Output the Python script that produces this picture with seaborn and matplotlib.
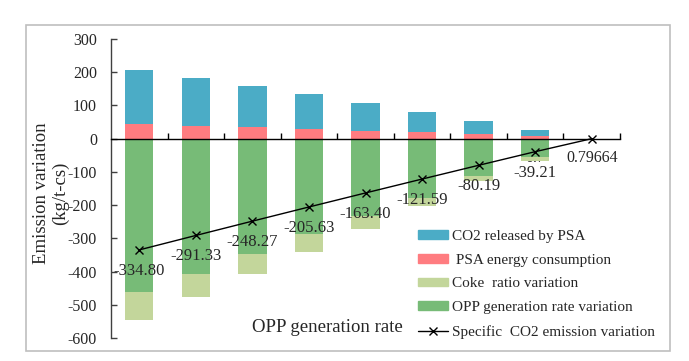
import numpy as np
import pandas as pd
import matplotlib
matplotlib.use("Agg")
import matplotlib.pyplot as plt
import seaborn as sns
from matplotlib.patches import Patch, Rectangle
from matplotlib.lines import Line2D
from matplotlib.ticker import FixedLocator

# ---- data ----
categories = ["0", "0.1", "0.2", "0.3", "0.4", "0.5", "0.6", "0.7", "0.79664"]
co2_released_psa = [165, 145, 123, 103, 82, 62, 40, 18, 0]
psa_energy = [43, 39, 35, 30, 24, 19, 13, 7, 0]
coke_ratio = [-82, -71, -61, -52, -38, -24, -15, -12, 0]
opp_rate = [-463, -406, -347, -288, -234, -180, -112, -55, 0]
specific_co2 = [-334.80, -291.33, -248.27, -205.63, -163.40, -121.59, -80.19, -39.21, 0]
point_labels = ["-334.80", "-291.33", "-248.27", "-205.63", "-163.40",
                "-121.59", "-80.19", "-39.21", ""]
y_ticks = [-600, -500, -400, -300, -200, -100, 0, 100, 200, 300]

legend_labels = ["CO2 released by PSA", " PSA energy consumption",
                 "Coke  ratio variation", "OPP generation rate variation",
                 "Specific  CO2 emission variation"]

c_blue = "#4BACC6"
c_pink = "#FF7C80"
c_light = "#C3D69B"
c_green = "#77BB77"

sns.set_theme(style="white")
plt.rcParams["font.family"] = ["Liberation Serif", "DejaVu Serif"]
plt.rcParams["axes.unicode_minus"] = False

df = pd.DataFrame({
    "cat": categories,
    "pos_total": np.array(co2_released_psa) + np.array(psa_energy),
    "pink": psa_energy,
    "neg_total": np.array(coke_ratio) + np.array(opp_rate),
    "green": opp_rate,
})

fig = plt.figure(figsize=(6.89, 3.61), dpi=100)
ax = fig.add_axes([111 / 689, 1 - 338 / 361, 509 / 689, 299 / 361])

common = dict(x="cat", order=categories, width=0.5, linewidth=0,
              saturation=1, ax=ax, errorbar=None)
sns.barplot(data=df, y="pos_total", color=c_blue, **common)
sns.barplot(data=df, y="pink", color=c_pink, **common)
sns.barplot(data=df, y="neg_total", color=c_light, **common)
sns.barplot(data=df, y="green", color=c_green, **common)

xpos = np.arange(len(categories))
sns.lineplot(x=xpos, y=specific_co2, ax=ax, color="black", lw=1.0,
             marker="x", markersize=6, markeredgewidth=1.0,
             markeredgecolor="black", zorder=3)

for xp, yv, lab in zip(xpos, specific_co2, point_labels):
    if lab:
        ax.annotate(lab, (xp, yv), xytext=(0, -15), textcoords="offset points",
                    ha="center", va="center", fontsize=12, zorder=4)

# axes styling
ax.set_xlim(-0.5, len(categories) - 0.5)
ax.set_ylim(-600, 300)
ax.set_yticks(y_ticks)
ax.set_yticklabels([str(t) for t in y_ticks])
ax.set_xticks(xpos)
ax.set_xticklabels(categories)
ax.xaxis.set_minor_locator(FixedLocator(np.arange(0.5, len(categories), 1.0)))
ax.tick_params(axis="x", which="major", length=0, pad=8, labelsize=11.5)
ax.tick_params(axis="x", which="minor", direction="in", length=4,
               width=1, color="black", bottom=True)
ax.tick_params(axis="y", which="major", direction="in", length=4, width=1,
               color="#404040", pad=10, labelsize=11.5, left=True)
ax.spines["top"].set_visible(False)
ax.spines["right"].set_visible(False)
ax.spines["bottom"].set_position(("data", 0))
ax.spines["bottom"].set_color("black")
ax.spines["bottom"].set_linewidth(1)
ax.spines["left"].set_color("#404040")
ax.spines["left"].set_linewidth(1)
for lab in ax.get_xticklabels():
    lab.set_zorder(5)

ax.set_ylabel("Emission variation\n(kg/t-cs)", fontsize=13.5, linespacing=1.15)
ax.yaxis.label.set_va("center")
ax.yaxis.set_label_coords(-0.118, 0.485)
ax.set_xlabel("OPP generation rate", fontsize=13.5)
ax.xaxis.label.set_va("center")
ax.xaxis.set_label_coords(0.426, 0.036)

handles = [Patch(color=c_blue), Patch(color=c_pink), Patch(color=c_light),
           Patch(color=c_green),
           Line2D([], [], color="black", lw=1.0, marker="x", markersize=6,
                  markeredgewidth=1.0)]
fig.legend(handles, legend_labels, loc="upper left",
           bbox_to_anchor=(418 / 689, 1 - 230 / 361), frameon=False,
           fontsize=11, handlelength=1.95, handleheight=0.5,
           handletextpad=0.25, labelspacing=0.7, borderpad=0,
           borderaxespad=0)

fig.patches.append(Rectangle((26 / 689, 1 - 351 / 361), (670 - 26) / 689,
                             (351 - 25) / 361, transform=fig.transFigure,
                             fill=False, edgecolor="#BFBFBF", lw=1.2))

fig.savefig("out.png", dpi=100)
